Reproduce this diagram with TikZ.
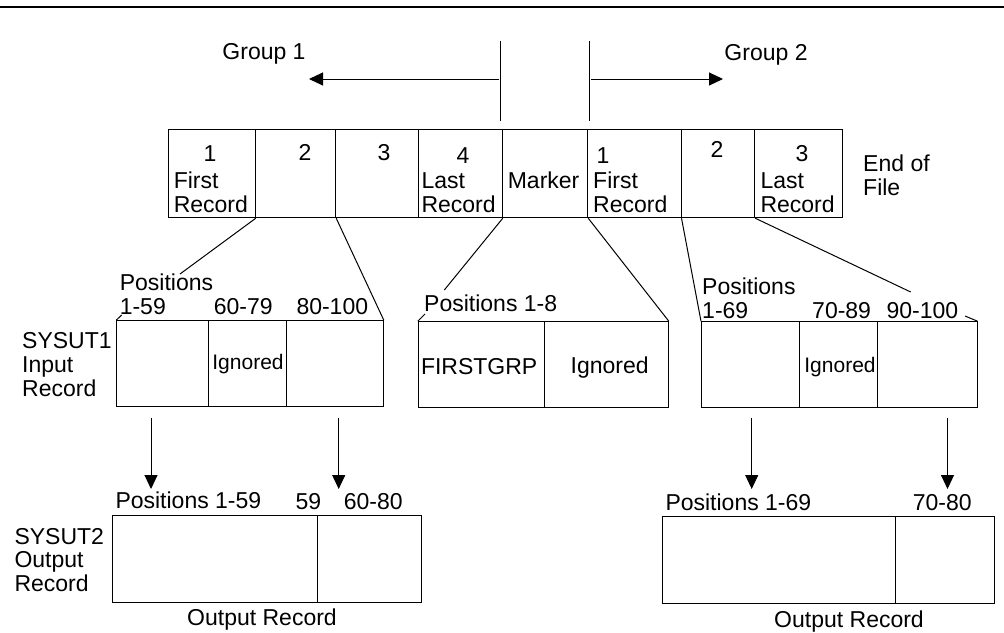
\documentclass[tikz,border=0pt]{standalone}
\usepackage{fontspec}
\setmainfont{Liberation Sans}
\usetikzlibrary{arrows.meta,fit}
\begin{document}
\begin{tikzpicture}[x=0.5pt,y=-0.5pt,line width=0.5pt,
   txt/.style={inner sep=0pt,anchor=base west,font=\fontsize{11.5}{13}\selectfont},
   mid/.style={txt,anchor=base},
   sml/.style={inner sep=0pt,anchor=base,font=\fontsize{10.5}{12}\selectfont},
   rec/.style={draw,inner sep=0pt,fit={#1}},
   tip/.style={-{Triangle[length=7pt,width=6.5pt]}}]
   \useasboundingbox (0,0) rectangle (1004,632);
   \draw[line width=1pt] (0,7) -- (1004,7);

   % groups
   \node[mid] (grp1) at (264,59.5) {Group 1};
   \node[mid] (grp2) at (766,60) {Group 2};
   \draw (500,41) -- (500,121) (589,41) -- (589,121);
   \coordinate (sepL) at (499,79);
   \coordinate (endL) at (309,79);
   \coordinate (sepR) at (591,79);
   \coordinate (endR) at (723,79);
   \draw[tip] (sepL) -- (endL);
   \draw[tip] (sepR) -- (endR);

   % input file
   \node[rec={(168,129) (255.3,217.7)}] (r1) {};
   \node[rec={(255.3,129) (335.7,217.7)}] (r2) {};
   \node[rec={(335.7,129) (418,217.7)}] (r3) {};
   \node[rec={(418,129) (502.3,217.7)}] (r4) {};
   \node[rec={(502.3,129) (587.7,217.7)}] (r5) {};
   \node[rec={(587.7,129) (681,217.7)}] (r6) {};
   \node[rec={(681,129) (754.7,217.7)}] (r7) {};
   \node[rec={(754.7,129) (842.7,217.7)}] (r8) {};

   \node[mid] (n1) at (210,161.7) {1};
   \node[txt] (f1) at (173.3,188.3) {First};
   \node[txt] (f1b) at (173.3,212) {Record};
   \node[mid] (n2) at (305,160) {2};
   \node[mid] (n3) at (384,160) {3};
   \node[mid] (n4) at (463,163) {4};
   \node[txt] (l1) at (421,188.3) {Last};
   \node[txt] (l1b) at (421,212) {Record};
   \node[txt] (mark) at (507.3,188.3) {Marker};
   \node[mid] (m1) at (603,163) {1};
   \node[txt] (f2) at (592.7,188.3) {First};
   \node[txt] (f2b) at (592.7,212) {Record};
   \node[mid] (m2) at (717,157) {2};
   \node[mid] (m3) at (802,161) {3};
   \node[txt] (l2) at (760,188.3) {Last};
   \node[txt] (l2b) at (760,212) {Record};
   \node[txt] (eof) at (862.7,171.5) {End of};
   \node[txt] (eofb) at (862.7,195) {File};

   % SYSUT1 records
   \node[txt] (in) at (21.7,348) {SYSUT1};
   \node[txt] (inb) at (21.7,372.7) {Input};
   \node[txt] (inc) at (21.7,396.7) {Record};

   \node[rec={(116.7,320.7) (383.3,406.7)}] (in1) {};
   \draw (208.7,320.7) -- (208.7,406.7) (286.7,320.7) -- (286.7,406.7);
   \node[sml] (ig1) at (248,369) {Ignored};
   \node[txt] (p1) at (119.3,290.5) {Positions};
   \node[txt] (p1a) at (119.3,314) {1-59};
   \node[txt] (p1b) at (213.3,314) {60-79};
   \node[txt] (p1c) at (296,314) {80-100};

   \node[rec={(418.3,321.7) (668.3,407.7)}] (mk) {};
   \draw (544.3,321.7) -- (544.3,407.7);
   \node[txt] (fg) at (420.5,374) {FIRSTGRP};
   \node[mid] (ig2) at (609.7,373.5) {Ignored};
   \node[txt] (p2) at (423.7,311) {Positions 1-8};

   \node[rec={(701.5,321.7) (977,407.7)}] (in2) {};
   \draw (799.3,321.7) -- (799.3,407.7) (877.6,321.7) -- (877.6,407.7);
   \node[sml] (ig3) at (840,372.5) {Ignored};
   \node[txt] (p3) at (701.7,294) {Positions};
   \node[txt] (p3a) at (701.7,318) {1-69};
   \node[txt] (p3b) at (811.7,318) {70-89};
   \node[txt] (p3c) at (886,318) {90-100};

   % connectors
   \coordinate (c1) at (180,274);
   \coordinate (c2) at (444.3,290);
   \coordinate (c3) at (910.7,292);
   \coordinate (t1) at (121.7,315);
   \coordinate (t2) at (425,314);
   \coordinate (t3) at (965,316);
   \draw (r1.south east) -- (c1);
   \draw (r2.south east) -- (in1.north east);
   \draw (r4.south east) -- (c2);
   \draw (r5.south east) -- (mk.north east);
   \draw (r6.south east) -- (in2.north west);
   \draw (r7.south east) -- (c3);
   \draw (in1.north west) -- (t1);
   \draw (mk.north west) -- (t2);
   \draw (t3) -- (in2.north east);

   % SYSUT2 records
   \coordinate (a1) at (151,418);
   \coordinate (a2) at (338.7,418);
   \coordinate (a3) at (751.7,418);
   \coordinate (a4) at (947.5,418);
   \coordinate (b1) at (151,489);
   \coordinate (b2) at (338.7,489);
   \coordinate (b3) at (751.7,489);
   \coordinate (b4) at (947.5,489);
   \draw[tip] (a1) -- (b1);
   \draw[tip] (a2) -- (b2);
   \draw[tip] (a3) -- (b3);
   \draw[tip] (a4) -- (b4);

   \node[txt] (out) at (14,544) {SYSUT2};
   \node[txt] (outb) at (14,567) {Output};
   \node[txt] (outc) at (14,591) {Record};

   \node[rec={(112.3,515.7) (421,602.3)}] (out1) {};
   \draw (317.3,515.7) -- (317.3,602.3);
   \node[txt] (q1) at (115,508.5) {Positions 1-59};
   \node[txt] (q1a) at (295,509.5) {59};
   \node[txt] (q1b) at (343.3,509.5) {60-80};
   \node[mid] (o1) at (262,625) {Output Record};

   \node[rec={(662.3,516.7) (994.3,603.3)}] (out2) {};
   \draw (895.7,516.7) -- (895.7,603.3);
   \node[txt] (q2) at (665,510) {Positions 1-69};
   \node[txt] (q2a) at (912.3,510) {70-80};
   \node[mid] (o2) at (849,627) {Output Record};
\end{tikzpicture}
\end{document}
